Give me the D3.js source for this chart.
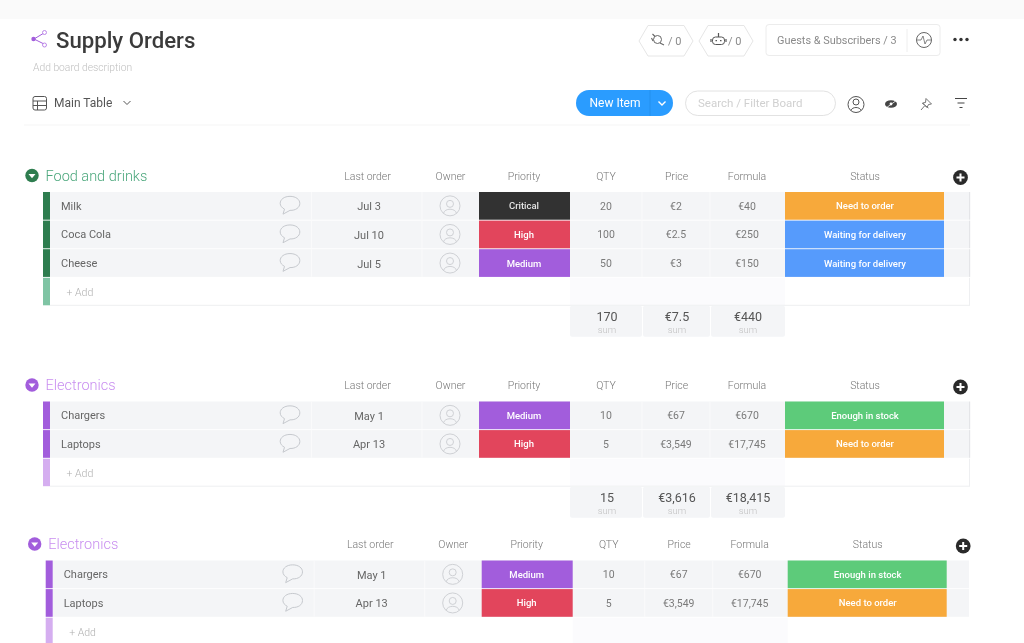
<!DOCTYPE html>
<html><head><meta charset="utf-8">
<script src="https://cdnjs.cloudflare.com/ajax/libs/d3/7.8.5/d3.min.js"></script>
<style>html,body{margin:0;padding:0;background:#fff;overflow:hidden}svg{display:block;font-family:Roboto,sans-serif}</style>
</head><body><svg id="c" width="1024" height="643"></svg>
<script>
// ---- data ----
const columnNames = ['Last order','Owner','Priority','QTY','Price','Formula','Status'];
const foodItems = ['Milk','Coca Cola','Cheese'];
const foodDates = ['Jul 3','Jul 10','Jul 5'];
const foodPriority = ['Critical','High','Medium'];
const foodQty = ['20','100','50'];
const foodPrice = ['€2','€2.5','€3'];
const foodFormula = ['€40','€250','€150'];
const foodStatus = ['Need to order','Waiting for delivery','Waiting for delivery'];
const foodSums = ['170','€7.5','€440'];
const elecItems = ['Chargers','Laptops'];
const elecDates = ['May 1','Apr 13'];
const elecPriority = ['Medium','High'];
const elecQty = ['10','5'];
const elecPrice = ['€67','€3,549'];
const elecFormula = ['€670','€17,745'];
const elecStatus = ['Enough in stock','Need to order'];
const elecSums = ['15','€3,616','€18,415'];
const statusLabels = ['Critical','High','Medium','Need to order','Waiting for delivery','Enough in stock'];
const statusColors = ['#333333','#e2445c','#a25ddc','#f7a93b','#579bfc','#5dcb7a'];

const color = d3.scaleOrdinal(statusLabels, statusColors);
const cx = d3.scaleOrdinal(columnNames, [369,450,524,606,676,747,865]);
const hx = d3.scaleOrdinal(columnNames, [367.5,450.5,524,606,676.5,747,865]);

const svg = d3.select('#c');
const defs = svg.append('defs');
defs.append('filter').attr('id','soft').attr('x','-5%').attr('y','-5%').attr('width','110%').attr('height','110%')
  .append('feGaussianBlur').attr('stdDeviation',0.5);
const root = svg.append('g').attr('filter','url(#soft)');
root.append('rect').attr('x',-20).attr('y',-20).attr('width',1064).attr('height',683).attr('fill','#fff');
root.append('rect').attr('x',-20).attr('y',-20).attr('width',1064).attr('height',39).attr('fill','#fafafa');

function text(p,x,y,s,size,fill,anchor,weight){
  return p.append('text').attr('x',x).attr('y',y).text(s).attr('font-size',size).attr('fill',fill)
    .attr('text-anchor',anchor||'start').attr('font-weight',weight||400);
}
function stroke(p,d,c,w){return p.append('path').attr('d',d).attr('fill','none').attr('stroke',c).attr('stroke-width',w||1);}

// ---- board header ----
const h = root.append('g');
stroke(h,'M34 39L44 33M34 39L44 44','#a25ddc',1);
h.append('circle').attr('cx',33.5).attr('cy',39).attr('r',2.2).attr('fill','#a25ddc');
[[44.5,32.5],[44.5,45]].forEach(c=>h.append('circle').attr('cx',c[0]).attr('cy',c[1]).attr('r',2).attr('fill','#fff').attr('stroke','#b57de6').attr('stroke-width',.9));
text(h,56,48,'Supply Orders',22.2,'#3a3a3a','start',500);
text(h,33,71,'Add board description',10.3,'#c0c0c0','start',300);
// main table
h.append('rect').attr('x',33).attr('y',96.5).attr('width',13.5).attr('height',13.5).attr('rx',2).attr('fill','none').attr('stroke','#555');
stroke(h,'M33 101H46.5M33 105.5H46.5M37.5 101V110','#555');
text(h,54,107,'Main Table',12,'#555');
stroke(h,'M123.5 101L127 104.5L130.5 101','#555');
// hexagon badges
[639,699].forEach(x=>{
  h.append('path').attr('d',`M${x} 41L${x+9} 25.5H${x+45}L${x+54} 41L${x+45} 56H${x+9}Z`)
    .attr('fill','#fff').attr('stroke','#e6e6e6');
  text(h,x+29,45,'/ 0',11,'#8a8a8a');
});
h.append('circle').attr('cx',657.5).attr('cy',39.5).attr('r',4).attr('fill','none').attr('stroke','#666');
stroke(h,'M652.5 34L655 36.500M660 43L664 45M653 41L651.5 38','#666',1.1);
h.append('rect').attr('x',712.5).attr('y',37).attr('width',12).attr('height',7.5).attr('rx',3).attr('fill','none').attr('stroke','#555',1.1);
stroke(h,'M718.5 33V37M715.5 40.700h1.500M720 40.700h1.500M711 39V42M726 39V42','#555',1.2);
h.append('rect').attr('x',766).attr('y',24.5).attr('width',174).attr('height',31).attr('rx',3).attr('fill','#fff').attr('stroke','#ececec');
text(h,777,44,'Guests & Subscribers / 3',10.9,'#8a8a8a');
stroke(h,'M907 29V52','#eeeeee');
h.append('circle').attr('cx',924).attr('cy',40).attr('r',7.5).attr('fill','none').attr('stroke','#666');
stroke(h,'M917 40H921L923 36L925 44L927 40H931','#666',.8);
[955,961,967].forEach(x=>h.append('circle').attr('cx',x).attr('cy',39.5).attr('r',1.7).attr('fill','#333'));
// new item
h.append('rect').attr('x',576).attr('y',90).attr('width',97).attr('height',26).attr('rx',13).attr('fill','#2b9cff');
stroke(h,'M650 90V116','#2490ee');
text(h,589.5,107,'New Item',12,'#fff');
stroke(h,'M658.5 101.5L662 105L665.5 101.5','#fff',1.4);
h.append('rect').attr('x',685.5).attr('y',91).attr('width',150).attr('height',24.5).attr('rx',12.25).attr('fill','#fff').attr('stroke','#e2e2e2');
text(h,698,107,'Search / Filter Board',11.5,'#d0d0d0');
// right icons
h.append('circle').attr('cx',856).attr('cy',104.5).attr('r',8).attr('fill','none').attr('stroke','#555');
h.append('circle').attr('cx',856).attr('cy',102).attr('r',3).attr('fill','none').attr('stroke','#555');
stroke(h,'M851 110.5C852 106.5 860 106.5 861 110.5','#555');
h.append('ellipse').attr('cx',891).attr('cy',104).attr('rx',6).attr('ry',3.8).attr('fill','#444');
h.append('circle').attr('cx',891).attr('cy',104).attr('r',1.4).attr('fill','#fff');
stroke(h,'M886 108L897 100','#fff',.8);
stroke(h,'M921 110L924.500 106M922.500 103L925 105.500L928.500 108M926 98.500L931.500 104L928.500 104.500L927 107.500L922.500 103L925.500 102.500Z','#666',.9);
stroke(h,'M955 98.5H967M957.5 103H964.5M959.5 107.5H962.5','#444',1.2);
root.append('rect').attr('x',24).attr('y',124.5).attr('width',946).attr('height',1).attr('fill','#f5f5f5');

// ---- groups ----
const groups = [
 {name:'Food and drinks',dx:0,y:192,head:'#2f7d4f',title:'#4ba77c',soft:'#7fc4a4',items:foodItems,dates:foodDates,pri:foodPriority,qty:foodQty,price:foodPrice,formula:foodFormula,status:foodStatus,sums:foodSums},
 {name:'Electronics',dx:0,y:401.5,head:'#a25ddc',title:'#c98ff0',soft:'#d5aef0',items:elecItems,dates:elecDates,pri:elecPriority,qty:elecQty,price:elecPrice,formula:elecFormula,status:elecStatus,sums:elecSums},
 {name:'Electronics',dx:2.7,y:560.5,head:'#a25ddc',title:'#c98ff0',soft:'#d5aef0',items:elecItems,dates:elecDates,pri:elecPriority,qty:elecQty,price:elecPrice,formula:elecFormula,status:elecStatus,sums:null}
];
const RH = 28.6;
groups.forEach(g=>{
  const G = root.append('g').attr('transform',`translate(${g.dx},${g.y})`);
  const n = g.items.length;
  const y = d3.scaleBand().domain(d3.range(n)).range([0,n*RH]);
  // header
  G.append('circle').attr('cx',32).attr('cy',-16.5).attr('r',6.7).attr('fill',g.head);
  G.append('path').attr('d','M28.5 -18H35.5L32 -13.8Z').attr('fill','#fff');
  text(G,45.5,-11.5,g.name,14.5,g.title,'start',300);
  G.selectAll('text.h').data(columnNames).join('text').attr('class','h')
    .attr('x',d=>hx(d)).attr('y',-12.5).attr('text-anchor','middle').attr('font-size',10.5)
    .attr('fill','#777').attr('font-weight',300).text(d=>d);
  G.append('circle').attr('cx',960.5).attr('cy',-14.5).attr('r',7.4).attr('fill','#2b2b2b');
  G.append('path').attr('d','M956.5 -14.5H964.5M960.5 -18.5V-10.5').attr('stroke','#fff').attr('stroke-width',2);

  const rows = G.selectAll('g.r').data(g.items.map((d,i)=>i)).join('g').attr('class','r').attr('transform',i=>`translate(0,${y(i)})`);
  const H = RH-0.9;
  rows.append('rect').attr('x',50).attr('width',919-g.dx).attr('height',H).attr('fill','#f4f5f7');
  rows.append('rect').attr('x',43).attr('width',7).attr('height',H).attr('fill',g.head);
  rows.append('path').attr('d',`M311.5 0V${H}M422 0V${H}M642 0V${H}M710 0V${H}`).attr('stroke','#fafafb').attr('stroke-width',1);
  rows.append('text').attr('x',61).attr('y',H/2+4).attr('font-size',11).attr('fill','#666').text(i=>g.items[i]);
  // comment bubble
  rows.append('path').attr('d',`M290 ${H/2-9.500}c6 0 9.800 3.200 9.800 7c0 4.300 -4.300 7.300 -9.800 7l-7 3.800l1.500 -5c-2.500 -1.300 -4.300 -3.300 -4.300 -5.800c0 -3.800 3.800 -7 9.800 -7z`)
    .attr('fill','none').attr('stroke','#c6c9ce').attr('stroke-width',1);
  rows.append('text').attr('x',cx('Last order')).attr('y',H/2+4.5).attr('text-anchor','middle').attr('font-size',11).attr('fill','#666').text(i=>g.dates[i]);
  // avatar
  rows.append('circle').attr('cx',450).attr('cy',H/2).attr('r',10).attr('fill','none').attr('stroke','#cfd1d5');
  rows.append('circle').attr('cx',450).attr('cy',H/2-2).attr('r',3.5).attr('fill','none').attr('stroke','#cfd1d5');
  rows.append('path').attr('d',`M443.500 ${H/2+7.500}C444.500 ${H/2+2} 455.500 ${H/2+2} 456.500 ${H/2+7.500}`).attr('fill','none').attr('stroke','#cfd1d5');
  // priority, status
  rows.append('rect').attr('x',479).attr('width',91).attr('height',H).attr('fill',i=>color(g.pri[i]));
  rows.append('text').attr('x',cx('Priority')).attr('y',H/2+3.5).attr('text-anchor','middle').attr('font-size',9.5).attr('font-weight',500).attr('fill',i=>g.pri[i]==='Critical'?'#e5e5e5':'#fff').text(i=>g.pri[i]);
  rows.append('rect').attr('x',785).attr('width',159).attr('height',H).attr('fill',i=>color(g.status[i]));
  rows.append('text').attr('x',cx('Status')).attr('y',H/2+3.5).attr('text-anchor','middle').attr('font-size',9.5).attr('font-weight',500).attr('fill','#fff').text(i=>g.status[i]);
  [['QTY',g.qty],['Price',g.price],['Formula',g.formula]].forEach(c=>{
    rows.append('text').attr('x',cx(c[0])).attr('y',H/2+3.8).attr('text-anchor','middle').attr('font-size',10.5).attr('fill','#7a7a7a').text(i=>c[1][i]);
  });
  // right border on the rows
  if(g.dx===0) rows.append('rect').attr('x',969).attr('width',1.2).attr('height',H).attr('fill','#e4e5e8');

  // add row
  const ay = n*RH;
  G.append('rect').attr('x',43).attr('y',ay).attr('width',7).attr('height',27.5).attr('fill',g.soft);
  G.append('rect').attr('x',570).attr('y',ay).attr('width',215).attr('height',27.5).attr('fill','#fbfbfd');
  text(G,66.5,ay+18,'+ Add',10.5,'#b0b0b0','start',300);
  if(g.sums){
    G.append('path').attr('d',`M50 ${ay+27.5}H970M969.500 ${ay}V${ay+27.5}`).attr('stroke','#eeeff1').attr('fill','none');
    const sy = ay+28;
    const cards = [[570,72,'QTY'],[643,67,'Price'],[711,74,'Formula']];
    cards.forEach((c,i)=>{
      G.append('rect').attr('x',c[0]).attr('y',sy).attr('width',c[1]).attr('height',31).attr('rx',2).attr('fill','#f4f5f7');
      text(G,cx(c[2])+1,sy+15,g.sums[i],12.5,'#555','middle');
      text(G,cx(c[2])+1,sy+27,'sum',9.5,'#c2c2c2','middle',300);
    });
  }
});
</script></body></html>
